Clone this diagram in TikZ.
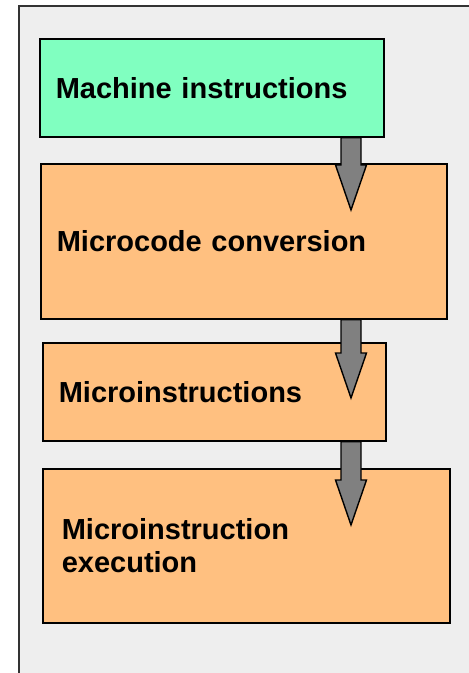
\documentclass[tikz,border=0pt]{standalone}
\usepackage{fontspec}
\setmainfont{Liberation Sans}
\usetikzlibrary{calc}

\definecolor{panelgray}{RGB}{238,238,238}
\definecolor{machgreen}{RGB}{128,255,192}
\definecolor{microorange}{RGB}{255,192,128}
\definecolor{arrowgray}{RGB}{128,128,128}

\begin{document}
\begin{tikzpicture}[x=1pt,y=-1pt]
    \tikzset{stage/.style={rectangle, draw=black, line width=1.6pt, fill=microorange,
            anchor=north west, inner xsep=16pt, inner ysep=0pt, align=left,
            font=\fontsize{29}{33}\selectfont\bfseries}}
    \tikzset{blockarrow/.style={draw=black, line width=1.4pt, fill=arrowgray, line join=miter,
            to path={let \p1=(\tikztostart), \p2=(\tikztotarget) in
                (\x1-10pt,\y1) -- (\x1-10pt,\y2+45pt) -- (\x1-15.5pt,\y2+45pt) -- (\x2,\y2)
                -- (\x1+15.5pt,\y2+45pt) -- (\x1+10pt,\y2+45pt) -- (\x1+10pt,\y1) -- cycle}}}

    \useasboundingbox (0,0) rectangle (469,673);
    \clip (0,0) rectangle (469,673);

    % panel
    \draw[fill=panelgray, line width=1.6pt, draw=black!80] (19,6) rectangle (490,700);

    % stages
    \node[stage, fill=machgreen, minimum width=344pt, minimum height=98pt, text width=312pt]
        (machine) at (39,38) {Machine instructions};
    \node[stage, minimum width=406pt, minimum height=155pt, text width=374pt]
        (conversion) at (40,163) {Microcode conversion};
    \node[stage, minimum width=343pt, minimum height=98pt, text width=311pt]
        (microinstr) at (42,342) {Microinstructions};
    \node[stage, inner xsep=19pt, minimum width=407pt, minimum height=154pt, text width=369pt]
        (execution) at (42,468) {Microinstruction\\execution};

    % arrow tips
    \coordinate (tip1) at (351,210);
    \coordinate (tip2) at (351,398);
    \coordinate (tip3) at (351,525);

    \draw[blockarrow] (machine.south -| tip1) to (tip1);
    \draw[blockarrow] (conversion.south -| tip2) to (tip2);
    \draw[blockarrow] (microinstr.south -| tip3) to (tip3);
\end{tikzpicture}
\end{document}
